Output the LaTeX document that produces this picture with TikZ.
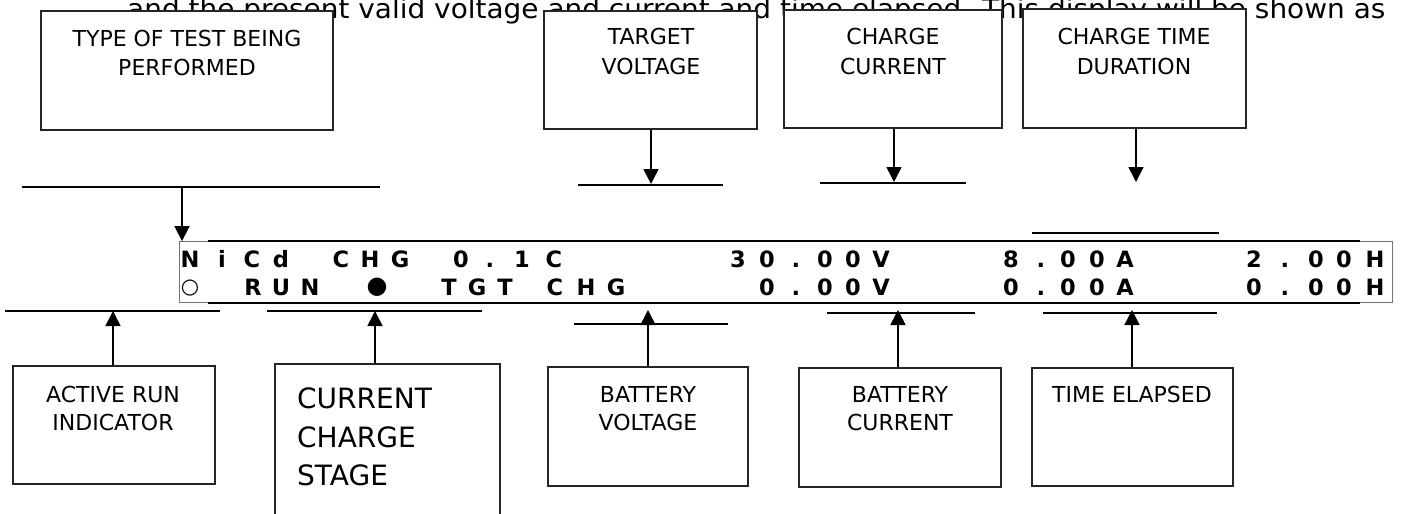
\documentclass[tikz,border=0pt]{standalone}
\usepackage{fontspec}
\usepackage{graphicx}
\setmainfont{DejaVu Sans}
\usetikzlibrary{arrows.meta}
\tikzset{
  lbox/.style={draw=black!85, line width=1.2pt, fill=white, inner sep=0pt},
  lbl/.style={anchor=base, font=\fontsize{22}{26}\selectfont, inner sep=0pt},
  biglbl/.style={anchor=base west, font=\fontsize{28}{34}\selectfont, inner sep=0pt},
  conn/.style={line width=1.8pt},
  arr/.style={line width=1.6pt, -{Triangle[width=15pt,length=15pt]}},
  lcd/.style={anchor=base, font=\fontsize{22.5}{26}\selectfont\bfseries, inner sep=0pt},
}
\begin{document}
\begin{tikzpicture}[x=1pt,y=-1pt]
\useasboundingbox (0,0) rectangle (1401,514);
\clip (0,0) rectangle (1401,514);
\fill[white] (0,0) rectangle (1401,514);

% background sentence (partly hidden)
\node[anchor=base west, inner sep=0pt] (bg) at (127,18)
  {\resizebox{1258pt}{\height}{\fontsize{27}{31}\selectfont and the present valid voltage and current and time elapsed. This display will be shown as}};

% top boxes
\node[lbox, minimum width=292pt, minimum height=119pt] (typebox) at (187,70.5) {};
\node[lbl] (typeA) at (187,46) {TYPE OF TEST BEING};
\node[lbl] (typeB) at (187,75) {PERFORMED};

\node[lbox, minimum width=213pt, minimum height=118pt] (tgtbox) at (650.5,70) {};
\node[lbl] (tgtA) at (651,45) {TARGET};
\node[lbl] (tgtB) at (651,74) {VOLTAGE};

\node[lbox, minimum width=218pt, minimum height=118pt] (ccbox) at (893,69) {};
\node[lbl] (ccA) at (893,45) {CHARGE};
\node[lbl] (ccB) at (893,74) {CURRENT};

\node[lbox, minimum width=223pt, minimum height=119pt] (ctbox) at (1134.5,68.5) {};
\node[lbl] (ctA) at (1134,45) {CHARGE TIME};
\node[lbl] (ctB) at (1134,74) {DURATION};

% bottom boxes
\node[lbox, minimum width=202pt, minimum height=118pt] (arbox) at (114,425) {};
\node[lbl] (arA) at (113,402) {ACTIVE RUN};
\node[lbl] (arB) at (113,430) {INDICATOR};

\node[lbox, minimum width=225pt, minimum height=170pt] (ccsbox) at (387.5,449) {};
\node[biglbl] (ccsA) at (297,408) {CURRENT};
\node[biglbl] (ccsB) at (297,447) {CHARGE};
\node[biglbl] (ccsC) at (297,485) {STAGE};

\node[lbox, minimum width=200pt, minimum height=119pt] (bvbox) at (648,426.5) {};
\node[lbl] (bvA) at (648,402) {BATTERY};
\node[lbl] (bvB) at (648,430) {VOLTAGE};

\node[lbox, minimum width=202pt, minimum height=119pt] (bcbox) at (900,427.5) {};
\node[lbl] (bcA) at (900,402) {BATTERY};
\node[lbl] (bcB) at (900,430) {CURRENT};

\node[lbox, minimum width=201pt, minimum height=118pt] (tebox) at (1132.5,427) {};
\node[lbl] (teA) at (1132,402) {TIME ELAPSED};

% display
\node[draw=black!55, line width=0.8pt, minimum width=1213pt, minimum height=61pt, inner sep=0pt] (disp) at (785.5,272) {};
\draw[line width=2.5pt] ([xshift=29pt]disp.north west) -- ([xshift=-32pt]disp.north east);
\draw[line width=2.5pt] ([xshift=29pt]disp.south west) -- ([xshift=-32pt]disp.south east);

\foreach \x/\c in {190/N,222/i,252/C,281/d,341/C,370/H,400/G,461/0,490/.,522/1,554/C,
  738/3,767/0,796/.,825/0,853/0,881/V,1011/8,1041/.,1068/0,1097/0,1125/A,
  1254/2,1285/.,1316/0,1344/0,1375/H}
  \node[lcd] (ra\x) at (\x,267) {\c};
\foreach \x/\c in {253/R,281/U,310/N,449/T,477/G,505/T,555/C,586/H,616/G,
  767/0,796/.,825/0,853/0,881/V,1011/0,1041/.,1068/0,1097/0,1125/A,
  1254/0,1285/.,1316/0,1344/0,1375/H}
  \node[lcd] (rb\x) at (\x,295) {\c};
\node[inner sep=0pt, font=\fontsize{21}{24}\selectfont\bfseries] (runind) at (190,288) {○};
\node[inner sep=0pt, font=\fontsize{24}{28}\selectfont] (stageind) at (377,287) {●};

% connector lines and arrows, top
\coordinate (tA) at (182,187);
\coordinate (tL) at (22,187); \coordinate (tR) at (380,187);
\draw[conn] (tL) -- (tR);
\draw[arr] (tA) -- (tA |- disp.north);

\coordinate (gL) at (578,185); \coordinate (gR) at (723,185); \coordinate (gT) at (651,184);
\draw[conn] (gL) -- (gR);
\draw[arr] (gT |- tgtbox.south) -- (gT);

\coordinate (cL) at (820,183); \coordinate (cR) at (966,183); \coordinate (cT) at (894,182);
\draw[conn] (cL) -- (cR);
\draw[arr] (cT |- ccbox.south) -- (cT);

\coordinate (dL) at (1032,233); \coordinate (dR) at (1219,233); \coordinate (dT) at (1136,182);
\draw[conn] (dL) -- (dR);
\draw[arr] (dT |- ctbox.south) -- (dT);

% connector lines and arrows, bottom
\coordinate (aL) at (5,311); \coordinate (aR) at (220,311); \coordinate (aT) at (113,311);
\draw[conn] (aL) -- (aR);
\draw[arr] (aT |- arbox.north) -- (aT);

\coordinate (sL) at (267,311); \coordinate (sR) at (482,311); \coordinate (sT) at (375,311);
\draw[conn] (sL) -- (sR);
\draw[arr] (sT |- ccsbox.north) -- (sT);

\coordinate (vL) at (574,324); \coordinate (vR) at (728,324); \coordinate (vT) at (648,310);
\draw[conn] (vL) -- (vR);
\draw[arr] (vT |- bvbox.north) -- (vT);

\coordinate (iL) at (827,313); \coordinate (iR) at (975,313); \coordinate (iT) at (898,310);
\draw[conn] (iL) -- (iR);
\draw[arr] (iT |- bcbox.north) -- (iT);

\coordinate (eL) at (1043,313); \coordinate (eR) at (1217,313); \coordinate (eT) at (1132,310);
\draw[conn] (eL) -- (eR);
\draw[arr] (eT |- tebox.north) -- (eT);
\end{tikzpicture}
\end{document}
